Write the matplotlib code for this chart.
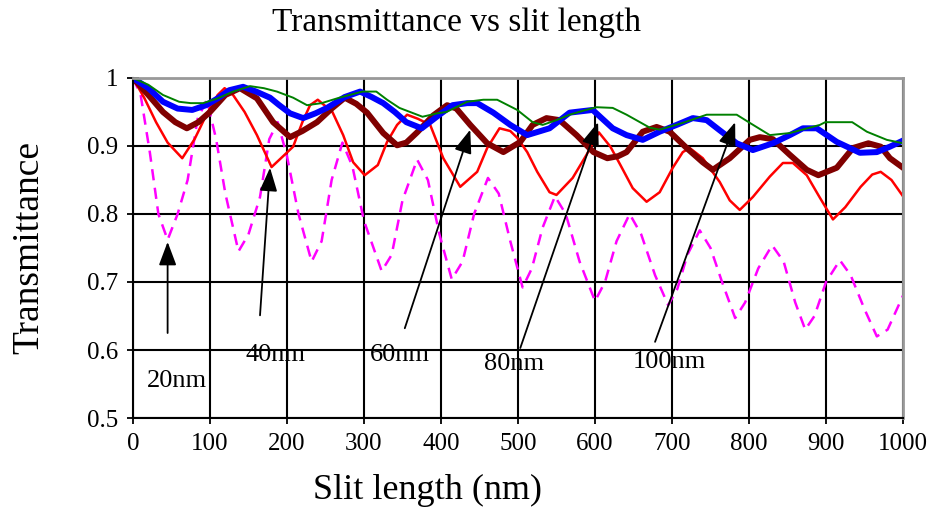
import matplotlib
matplotlib.use('Agg')
import matplotlib.pyplot as plt

# 20nm (magenta dashed)
x_20 = [0, 10, 22, 33, 45, 58, 71, 84, 96, 108, 120, 137, 150, 165, 177, 188, 200, 215, 232, 245,
        258, 272, 285, 300, 323, 336, 350, 369, 383, 398, 414, 428, 443, 461, 475, 490, 506, 518,
        532, 548, 562, 580, 600, 613, 628, 645, 660, 678, 695, 707, 720, 736, 750, 765, 782, 795,
        812, 830, 845, 860, 873, 885, 900, 918, 932, 950, 966, 980, 1000]
y_20 = [1.0, 0.975, 0.89, 0.80, 0.762, 0.80, 0.85, 0.94, 0.968, 0.91, 0.83, 0.745, 0.77, 0.825,
        0.91, 0.935, 0.885, 0.80, 0.73, 0.76, 0.85, 0.905, 0.87, 0.79, 0.716, 0.74, 0.82, 0.88,
        0.85, 0.77, 0.704, 0.73, 0.80, 0.853, 0.83, 0.76, 0.692, 0.72, 0.78, 0.826, 0.80, 0.73,
        0.672, 0.70, 0.76, 0.80, 0.77, 0.71, 0.666, 0.69, 0.74, 0.776, 0.75, 0.70, 0.647, 0.67,
        0.72, 0.754, 0.73, 0.67, 0.63, 0.65, 0.70, 0.732, 0.71, 0.66, 0.62, 0.63, 0.68]

# 40nm (red)
x_40 = [0, 15, 30, 45, 64, 80, 95, 110, 119, 130, 145, 161, 180, 195, 208, 220, 230, 240, 259, 273,
        286, 301, 318, 330, 343, 356, 370, 386, 403, 425, 447, 460, 476, 490, 499, 512, 525, 541,
        550, 571, 589, 605, 620, 633, 649, 667, 684, 701, 714, 723, 740, 762, 775, 788, 805, 827,
        844, 857, 875, 892, 909, 925, 945, 960, 971, 985, 1000]
y_40 = [1.0, 0.97, 0.935, 0.905, 0.882, 0.91, 0.945, 0.975, 0.985, 0.975, 0.95, 0.916, 0.869,
        0.885, 0.899, 0.935, 0.96, 0.968, 0.95, 0.916, 0.876, 0.857, 0.872, 0.906, 0.931, 0.946,
        0.94, 0.931, 0.882, 0.84, 0.862, 0.897, 0.926, 0.922, 0.912, 0.891, 0.862, 0.832, 0.828,
        0.853, 0.887, 0.92, 0.899, 0.872, 0.838, 0.818, 0.832, 0.868, 0.891, 0.897, 0.882, 0.847,
        0.82, 0.806, 0.825, 0.855, 0.875, 0.875, 0.857, 0.824, 0.792, 0.81, 0.84, 0.858, 0.862,
        0.85, 0.826]

# 60nm (dark red, thick)
x_60 = [0, 20, 39, 55, 70, 85, 100, 120, 139, 161, 182, 204, 220, 239, 258, 275, 290, 304, 325,
        343, 355, 369, 390, 408, 420, 438, 460, 481, 503, 519, 537, 554, 576, 598, 616, 630, 641,
        662, 680, 697, 719, 740, 753, 775, 801, 814, 831, 853, 875, 890, 914, 935, 955, 971, 983,
        1000]
y_60 = [1.0, 0.975, 0.95, 0.935, 0.926, 0.935, 0.95, 0.975, 0.985, 0.97, 0.935, 0.913, 0.922,
        0.935, 0.955, 0.971, 0.962, 0.949, 0.919, 0.901, 0.905, 0.92, 0.945, 0.96, 0.955, 0.931,
        0.904, 0.891, 0.906, 0.931, 0.941, 0.938, 0.916, 0.891, 0.882, 0.885, 0.891, 0.921, 0.928,
        0.921, 0.897, 0.876, 0.865, 0.882, 0.909, 0.913, 0.91, 0.887, 0.865, 0.857, 0.868, 0.897,
        0.904, 0.899, 0.882, 0.868]

# 80nm (blue, thick)
x_80 = [0, 20, 39, 58, 77, 95, 110, 125, 143, 160, 178, 190, 204, 221, 237, 252, 275, 295, 310,
        325, 340, 355, 375, 398, 415, 434, 447, 468, 490, 512, 541, 567, 597, 623, 641, 662, 684,
        706, 727, 745, 762, 784, 805, 831, 853, 870, 888, 914, 944, 966, 983, 1000]
y_80 = [1.0, 0.985, 0.965, 0.955, 0.953, 0.96, 0.97, 0.982, 0.987, 0.98, 0.971, 0.96, 0.948,
        0.941, 0.948, 0.956, 0.972, 0.98, 0.972, 0.963, 0.95, 0.935, 0.926, 0.946, 0.96, 0.963,
        0.963, 0.949, 0.931, 0.916, 0.926, 0.949, 0.953, 0.926, 0.916, 0.909, 0.921, 0.931, 0.941,
        0.938, 0.923, 0.904, 0.894, 0.904, 0.916, 0.926, 0.926, 0.906, 0.89, 0.891, 0.899, 0.908]

# 100nm (green, thin)
x_100 = [0, 20, 39, 60, 75, 91, 110, 130, 152, 170, 187, 208, 226, 245, 268, 298, 316, 330, 346,
         376, 395, 407, 434, 455, 473, 499, 519, 532, 550, 567, 585, 602, 623, 641, 671, 684, 714,
         745, 784, 801, 827, 853, 892, 899, 934, 953, 979, 1000]
y_100 = [1.0, 0.99, 0.975, 0.965, 0.963, 0.963, 0.97, 0.98, 0.988, 0.985, 0.98, 0.971, 0.96,
         0.963, 0.971, 0.98, 0.98, 0.968, 0.956, 0.943, 0.948, 0.95, 0.965, 0.968, 0.968, 0.953,
         0.935, 0.931, 0.938, 0.946, 0.952, 0.957, 0.956, 0.946, 0.927, 0.924, 0.934, 0.946, 0.946,
         0.934, 0.916, 0.919, 0.931, 0.935, 0.935, 0.921, 0.909, 0.904]

# annotation labels: text, text position, arrow tail, arrow tip
labels = ['20nm', '40nm', '60nm', '80nm', '100nm']
label_xy = [(57, 0.554), (185, 0.593), (346, 0.593), (495, 0.579), (696, 0.582)]
tail_xy = [(45, 0.625), (165, 0.651), (353, 0.632), (503, 0.603), (678, 0.612)]
tip_xy = [(45, 0.759), (178, 0.868), (438, 0.924), (604, 0.935), (782, 0.935)]

serif = ['Liberation Serif', 'DejaVu Serif']

fig = plt.figure(figsize=(9.35, 5.29), dpi=100)
ax = fig.add_axes([0.1422, 0.2098, 0.8236, 0.6428])

ax.plot(x_20, y_20, color='#ff00ff', lw=1.8, dashes=(4.5, 3))
ax.plot(x_40, y_40, color='#ff0000', lw=1.8)
ax.plot(x_60, y_60, color='#800000', lw=4.3)
ax.plot(x_80, y_80, color='#0000ff', lw=4.3)
ax.plot(x_100, y_100, color='#008000', lw=1.4)

ax.set_xlim(0, 1000)
ax.set_ylim(0.5, 1.0)
ax.set_xticks(range(0, 1001, 100))
ax.set_yticks([0.5, 0.6, 0.7, 0.8, 0.9, 1.0])
ax.set_yticklabels(['0.5', '0.6', '0.7', '0.8', '0.9', '1'])
ax.grid(True, color='black', lw=1.5)
ax.set_axisbelow(True)
ax.tick_params(direction='inout', length=9, width=1.3, labelsize=18, pad=6)
for lab in ax.get_xticklabels() + ax.get_yticklabels():
    lab.set_family(serif)
ax.spines['left'].set_linewidth(1.5)
ax.spines['bottom'].set_linewidth(1.5)
ax.spines['top'].set_color('#999999')
ax.spines['right'].set_color('#999999')
ax.spines['top'].set_linewidth(2)
ax.spines['right'].set_linewidth(2)

for lab, txy, sxy, hxy in zip(labels, label_xy, tail_xy, tip_xy):
    ax.annotate('', xy=hxy, xytext=sxy,
                arrowprops=dict(arrowstyle='-|>,head_length=0.8,head_width=0.3',
                                mutation_scale=18, color='black', lw=1.3,
                                shrinkA=0, shrinkB=0))
    ax.text(txy[0], txy[1], lab, ha='center', va='center', fontsize=19, family=serif)

ax.set_xlabel('Slit length (nm)', fontsize=26, family=serif)
ax.xaxis.set_label_coords(0.383, -0.165)
ax.set_ylabel('Transmittance', fontsize=27, family=serif)
ax.yaxis.set_label_coords(-0.112, 0.5)
fig.text(0.488, 0.957, 'Transmittance vs slit length', ha='center', va='center',
         fontsize=24, family=serif)

fig.savefig('out.png', dpi=100)
